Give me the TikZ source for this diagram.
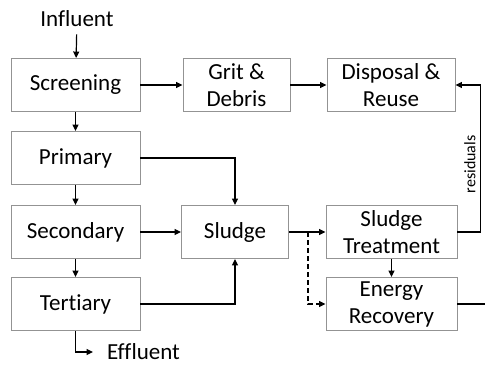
\documentclass[tikz,border=0pt]{standalone}
\usepackage{fontspec}
\setmainfont[Ligatures=NoCommon]{Carlito}
\usetikzlibrary{arrows.meta}

\tikzset{
  stage/.style={draw=gray!85,line width=0.9pt,minimum width=129pt,minimum height=53pt,
    inner sep=0pt,align=center,font=\fontsize{23}{27}\selectfont},
  flow/.style={-{Triangle[length=6.5pt,width=6pt]},line width=1.2pt},
  label/.style={font=\fontsize{23}{27}\selectfont,inner sep=0pt}
}

\begin{document}
\begin{tikzpicture}[x=1pt,y=-1pt]
\useasboundingbox (0,0) rectangle (485,365);
% process column
\node[label] (inf) at (77,19) {Influent};
\node[stage] (scr) at (75.5,85) {Screening};
\node[stage] (pri) at (75.5,158) {Primary};
\node[stage] (sec) at (75.5,232) {Secondary};
\node[stage] (ter) at (75.5,304) {Tertiary};
\node[label,anchor=west] (eff) at (107,352) {Effluent};
% by-products
\node[stage,minimum width=107pt] (grit) at (236.5,85) {Grit \&\\Debris};
\node[stage,minimum width=128pt] (disp) at (391,85) {Disposal \&\\Reuse};
\node[stage,minimum width=107pt] (slu) at (235,232) {Sludge};
\node[stage,minimum width=131pt] (trt) at (391.5,232) {Sludge\\Treatment};
\node[stage,minimum width=131pt] (nrg) at (391.5,304) {Energy\\Recovery};
\coordinate (edge) at (485,304);
\coordinate (split) at (308,232);

\draw[flow,shorten <=7pt] (inf) -- (scr);
\draw[flow] (scr) -- (pri);
\draw[flow] (pri) -- (sec);
\draw[flow] (sec) -- (ter);
\draw[flow] (ter.south) |- ([xshift=-14pt]eff.west);
\draw[flow] (scr) -- (grit);
\draw[flow] (grit) -- (disp);
\draw[flow] (pri.east) -| (slu.north);
\draw[flow] (sec) -- (slu);
\draw[flow] (ter.east) -| (slu.south);
\draw[flow] (slu) -- (trt);
\draw[flow,dash pattern=on 5pt off 3pt] (split) |- (nrg.west);
\draw[flow] (trt) -- (nrg);
\draw[flow] (trt.east) -- ++(23,0) |- (disp.east)
  node[pos=0.23,left=1pt,rotate=90,anchor=south,font=\fontsize{16}{19}\selectfont] {residuals};
\draw[line width=1.2pt] (nrg.east) -- (edge);
\end{tikzpicture}
\end{document}
